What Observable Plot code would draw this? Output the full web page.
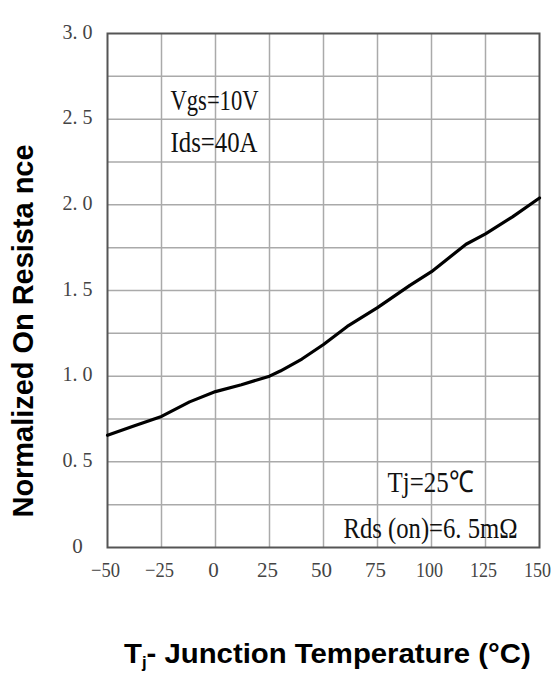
<!DOCTYPE html>
<html><head><meta charset="utf-8">
<script src="https://cdn.jsdelivr.net/npm/d3@7"></script>
<script src="https://cdn.jsdelivr.net/npm/@observablehq/plot@0.6"></script>
<style>html,body{margin:0;padding:0;background:#fff;}</style>
</head><body><div id="chart"></div>
<script>
// Data
const temperature = [-50, -37.5, -25, -12, 0, 12, 25, 30, 40, 50, 61, 75, 90, 100, 116, 125, 137.5, 150];
const resistance  = [0.655, 0.71, 0.765, 0.85, 0.91, 0.95, 1.0, 1.03, 1.10, 1.185, 1.29, 1.40, 1.53, 1.61, 1.77, 1.83, 1.93, 2.04];

const xTicks = [-50, -25, 0, 25, 50, 75, 100, 125, 150];
const xTickLabels = ["−50", "−25", "0", "25", "50", "75", "100", "125", "150"];
const yTicks = [0, 0.5, 1, 1.5, 2, 2.5, 3];
const yTickLabels = ["0", "0. 5", "1. 0", "1. 5", "2. 0", "2. 5", "3. 0"];
const xGrid = [-25, 0, 25, 50, 75, 100, 125];
const yGrid = [0.25, 0.5, 0.75, 1, 1.25, 1.5, 1.75, 2, 2.25, 2.5, 2.75];

const notes = ["Vgs=10V", "Ids=40A", "Tj=25℃", "Rds (on)=6. 5mΩ"];
const yTitle = "Normalized On Resista nce";
const xTitleParts = ["T", "j", "- Junction Temperature (°C)"];

const table = temperature.map((t, i) => ({t, r: resistance[i]}));

const noteFont = {fontFamily: "Liberation Serif", fontSize: 30, fill: "#111", frameAnchor: "top-left", lineAnchor: "middle"};

const plot = Plot.plot({
  width: 554,
  height: 675,
  marginTop: 33,
  marginLeft: 107,
  marginRight: 15,
  marginBottom: 128,
  x: {domain: [-50, 150]},
  y: {domain: [0, 3]},
  style: {background: "white"},
  marks: [
    Plot.ruleX(xGrid, {stroke: "#aaa", strokeWidth: 1.5}),
    Plot.ruleY(yGrid, {stroke: "#aaa", strokeWidth: 1.5}),
    Plot.frame({stroke: "#555", strokeWidth: 2}),
    Plot.line(table, {x: "t", y: "r", stroke: "#000", strokeWidth: 3.2}),
    Plot.axisX(xTicks, {tickSize: 0, tickPadding: 15, label: null, dx: -2,
      tickFormat: d => xTickLabels[xTicks.indexOf(d)],
      fontFamily: "Liberation Serif", fontSize: 21, fill: "#444"}),
    Plot.axisY(yTicks, {tickSize: 0, tickPadding: 30, label: null, textAnchor: "middle", dy: -1.5,
      tickFormat: d => yTickLabels[yTicks.indexOf(d)],
      fontFamily: "Liberation Serif", fontSize: 21, fill: "#444"}),
    Plot.text([notes[0]], {text: d => d, ...noteFont, textAnchor: "start", dx: 63, dy: 67}),
    Plot.text([notes[1]], {text: d => d, ...noteFont, textAnchor: "start", dx: 63, dy: 109}),
    Plot.text([notes[2]], {text: d => d, ...noteFont, textAnchor: "middle", dx: 323, dy: 449}),
    Plot.text([notes[3]], {text: d => d, ...noteFont, textAnchor: "middle", dx: 323, dy: 495})
  ]
});

// condense text like the reference
const lengths = {"Vgs=10V": 88, "Ids=40A": 87, "Tj=25℃": 86, "Rds (on)=6. 5mΩ": 174,
  "−50": 29, "−25": 29, "100": 27, "125": 27, "150": 27,
  "0. 5": 30, "1. 0": 30, "1. 5": 30, "2. 0": 30, "2. 5": 30, "3. 0": 30};
plot.querySelectorAll("text").forEach(t => {
  const L = lengths[t.textContent];
  if (L) { t.setAttribute("textLength", L); t.setAttribute("lengthAdjust", "spacingAndGlyphs"); }
});

document.getElementById("chart").appendChild(plot);

const svg = d3.select(plot);
// y-axis title
svg.append("text")
  .attr("transform", "translate(33,331) rotate(-90)")
  .attr("text-anchor", "middle")
  .attr("font-family", "Liberation Sans, Arial, sans-serif")
  .attr("font-weight", "bold")
  .attr("font-size", 29)
  .attr("fill", "#000")
  .attr("textLength", 373)
  .attr("lengthAdjust", "spacingAndGlyphs")
  .text(yTitle);
// x-axis title with subscript j
const xt = svg.append("text")
  .attr("x", 0).attr("y", 0)
  .attr("text-anchor", "start")
  .attr("font-family", "Liberation Sans, Arial, sans-serif")
  .attr("font-weight", "bold")
  .attr("font-size", 28)
  .attr("fill", "#000");
xt.append("tspan").text(xTitleParts[0]);
xt.append("tspan").attr("font-size", 16).attr("dy", 5).text(xTitleParts[1]);
xt.append("tspan").attr("dy", -5).text(xTitleParts[2]);
const w = xt.node().getBBox().width || 400;
xt.attr("transform", `translate(124,663) scale(${407 / w},1)`);
</script>
</body></html>
